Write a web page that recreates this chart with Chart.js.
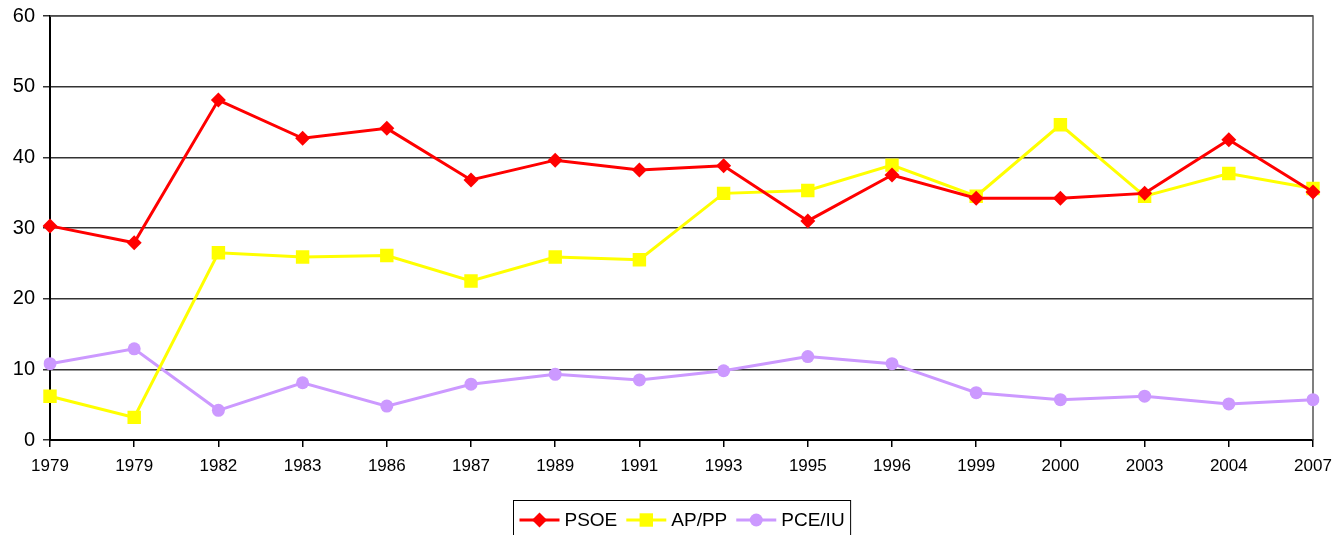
<!DOCTYPE html>
<html>
<head>
<meta charset="utf-8">
<script src="https://cdn.jsdelivr.net/npm/chart.js@4.4.0/dist/chart.umd.min.js"></script>
<style>
  html, body { margin: 0; padding: 0; background: #fff; }
  #wrap { width: 1336px; height: 535px; }
</style>
</head>
<body>
<div id="wrap"><canvas id="votesChart"></canvas></div>
<script>
const years = ['1979', '1979', '1982', '1983', '1986', '1987', '1989', '1991', '1993', '1995', '1996', '1999', '2000', '2003', '2004', '2007'];
const psoe = [30.3, 27.9, 48.1, 42.7, 44.1, 36.8, 39.6, 38.2, 38.8, 31.0, 37.5, 34.2, 34.2, 34.9, 42.5, 35.1];
const appp = [6.2, 3.2, 26.5, 25.9, 26.1, 22.5, 25.9, 25.5, 34.9, 35.3, 38.9, 34.5, 44.6, 34.5, 37.7, 35.6];
const pceiu = [10.8, 12.9, 4.2, 8.1, 4.8, 7.9, 9.3, 8.5, 9.8, 11.8, 10.8, 6.7, 5.7, 6.2, 5.1, 5.7];
const yTicks = [0, 10, 20, 30, 40, 50, 60];

const FONT = "'Liberation Sans', Arial, sans-serif";

// frame round the plot area + boxed legend under the axis
const framePlugin = {
  id: 'frame',
  beforeDatasetsDraw(chart) {
    const { ctx, chartArea: a } = chart;
    ctx.save();
    ctx.strokeStyle = '#555';
    ctx.lineWidth = 1.5;
    ctx.beginPath();
    ctx.moveTo(a.left, a.top);
    ctx.lineTo(a.right, a.top);
    ctx.lineTo(a.right, a.bottom);
    ctx.stroke();
    ctx.restore();
  },
  afterDraw(chart) {
    const { ctx, chartArea: a } = chart;
    const sets = chart.data.datasets;
    ctx.save();
    ctx.font = '19px ' + FONT;
    const lineLen = 40, gapText = 5, gapItem = 9, pad = 6;
    let total = pad * 2;
    sets.forEach((d, i) => {
      total += lineLen + gapText + ctx.measureText(d.label).width + (i < sets.length - 1 ? gapItem : 0);
    });
    const cx = (a.left + a.right) / 2;
    const left = Math.round(cx - total / 2) + 0.5;
    const top = 500.5, cy = 520;
    ctx.strokeStyle = '#000';
    ctx.lineWidth = 1;
    ctx.strokeRect(left, top, total, 40);
    let x = left + pad;
    sets.forEach(d => {
      ctx.strokeStyle = d.borderColor;
      ctx.lineWidth = 3;
      ctx.beginPath();
      ctx.moveTo(x, cy);
      ctx.lineTo(x + lineLen, cy);
      ctx.stroke();
      ctx.fillStyle = d.pointBackgroundColor;
      ctx.strokeStyle = d.pointBorderColor;
      Chart.helpers.drawPoint(ctx, { pointStyle: d.pointStyle, radius: d.pointRadius, borderWidth: 0 }, x + lineLen / 2, cy);
      x += lineLen + gapText;
      ctx.fillStyle = '#000';
      ctx.textBaseline = 'middle';
      ctx.textAlign = 'left';
      ctx.fillText(d.label, x, cy + 1);
      x += ctx.measureText(d.label).width + gapItem;
    });
    ctx.restore();
  }
};

function series(label, data, color, style, r) {
  return {
    label, data,
    borderColor: color,
    backgroundColor: color,
    pointBackgroundColor: color,
    pointBorderColor: color,
    pointBorderWidth: 0,
    pointStyle: style,
    pointRadius: r,
    pointHoverRadius: r,
    borderWidth: 3,
    tension: 0,
    fill: false
  };
}

new Chart(document.getElementById('votesChart'), {
  type: 'line',
  data: {
    labels: years,
    datasets: [
      series('PSOE', psoe, '#FF0000', 'rectRot', 7.5),
      series('AP/PP', appp, '#FFFF00', 'rect', 9.5),
      series('PCE/IU', pceiu, '#CC99FF', 'circle', 6.5)
    ]
  },
  options: {
    responsive: true,
    maintainAspectRatio: false,
    animation: false,
    layout: { padding: { top: 16, right: 23, bottom: 50, left: 0 } },
    plugins: {
      legend: { display: false },
      tooltip: { enabled: false }
    },
    scales: {
      x: {
        offset: false,
        grid: { drawOnChartArea: false, color: '#000', lineWidth: 1.5, tickLength: 7 },
        border: { color: '#000', width: 2 },
        ticks: {
          color: '#000', autoSkip: false, maxRotation: 0, padding: 9,
          font: { family: FONT, size: 17 }
        },
        afterFit(scale) {
          scale.height = 45;
          scale.paddingLeft = 0;
          scale.paddingRight = 0;
        }
      },
      y: {
        min: 0, max: 60,
        afterBuildTicks(scale) { scale.ticks = yTicks.map(v => ({ value: v })); },
        grid: { color: '#333', lineWidth: 1.5, tickLength: 7 },
        border: { color: '#000', width: 2 },
        ticks: {
          color: '#000', padding: 8,
          font: { family: FONT, size: 20 }
        },
        afterFit(scale) {
          scale.width = 50;
          scale.paddingTop = 0;
          scale.paddingBottom = 0;
        }
      }
    }
  },
  plugins: [framePlugin]
});
</script>
</body>
</html>
